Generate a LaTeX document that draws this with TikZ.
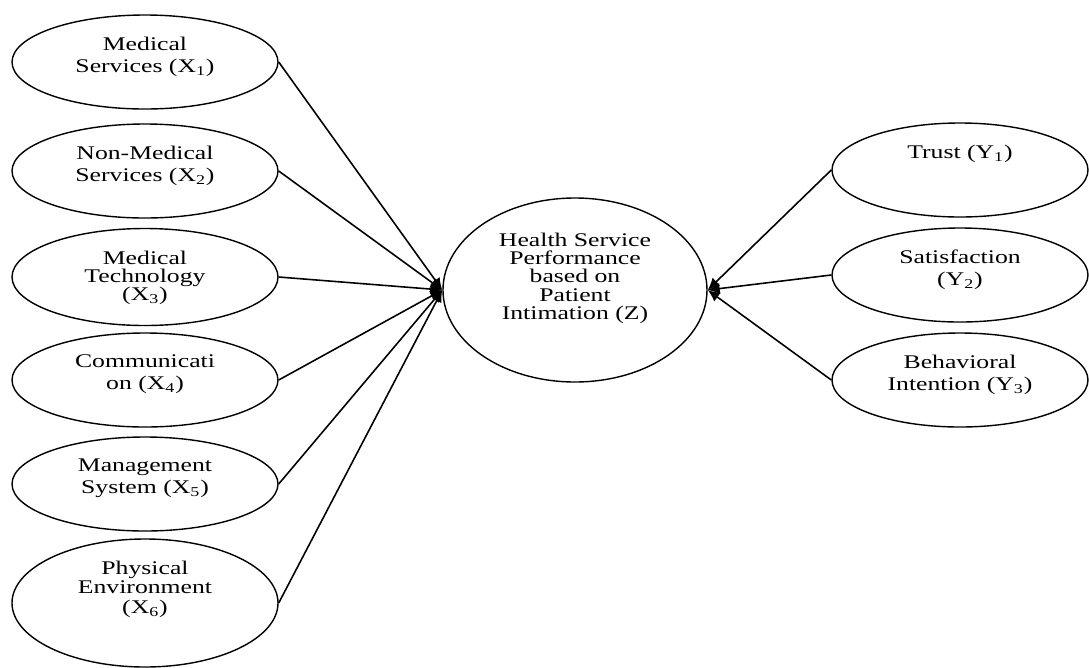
\documentclass[tikz,border=0pt]{standalone}
\usepackage{fontspec}
\setmainfont[FakeStretch=1.33]{Liberation Serif}
\usetikzlibrary{shapes.geometric,arrows.meta}
\tikzset{
  latent/.style={ellipse, draw, line width=0.8pt, minimum width=53.2mm, minimum height=18.8mm, inner sep=0pt},
  lbl/.style={align=center, anchor=north, yshift=-4.5mm, inner sep=0pt, font=\fontsize{11}{12.5}\selectfont},
  link/.style={line width=0.9pt, -{Latex[length=2.4mm,width=2.2mm]}}
}
\begin{document}
\begin{tikzpicture}[x=0.2mm,y=-0.2mm]
    \useasboundingbox (0,0) rectangle (1089,667);
    % X constructs
    \node[latent,label={[lbl]north:Medical\\Services (X\textsubscript{1})}] (ms) at (145,62) {};
    \node[latent,label={[lbl]north:Non-Medical\\Services (X\textsubscript{2})}] (nms) at (145,171) {};
    \node[latent,minimum height=19.4mm,label={[lbl,font=\fontsize{11}{10.5}\selectfont]north:Medical\\Technology\\(X\textsubscript{3})}] (mt) at (145,277) {};
    \node[latent,label={[lbl]north:Communicati\\on (X\textsubscript{4})}] (com) at (145,380) {};
    \node[latent,label={[lbl]north:Management\\System (X\textsubscript{5})}] (mgs) at (145,484) {};
    \node[latent,minimum height=25.6mm,label={[lbl,font=\fontsize{11}{11}\selectfont]north:Physical\\Environment\\(X\textsubscript{6})}] (phy) at (145,603) {};
    % Z construct
    \node[latent,minimum width=52.8mm,minimum height=36.8mm,label={[lbl,yshift=-2.5mm,font=\fontsize{11}{10.5}\selectfont]north:Health Service\\Performance\\based on\\Patient\\Intimation (Z)}] (hsp) at (575,290) {};
    % Y constructs
    \node[latent,minimum width=51.2mm,label={[lbl]north:Trust (Y\textsubscript{1})}] (tr) at (960,170) {};
    \node[latent,minimum width=51.2mm,label={[lbl]north:Satisfaction\\(Y\textsubscript{2})}] (sat) at (960,275) {};
    \node[latent,minimum width=51.2mm,label={[lbl]north:Behavioral\\Intention (Y\textsubscript{3})}] (bi) at (960,380) {};
    \foreach \n in {ms,nms,mt,com,mgs,phy}
        \draw[link] (\n.east) -- (hsp.west);
    \foreach \n in {tr,sat,bi}
        \draw[link] (\n.west) -- (hsp.east);
\end{tikzpicture}
\end{document}
